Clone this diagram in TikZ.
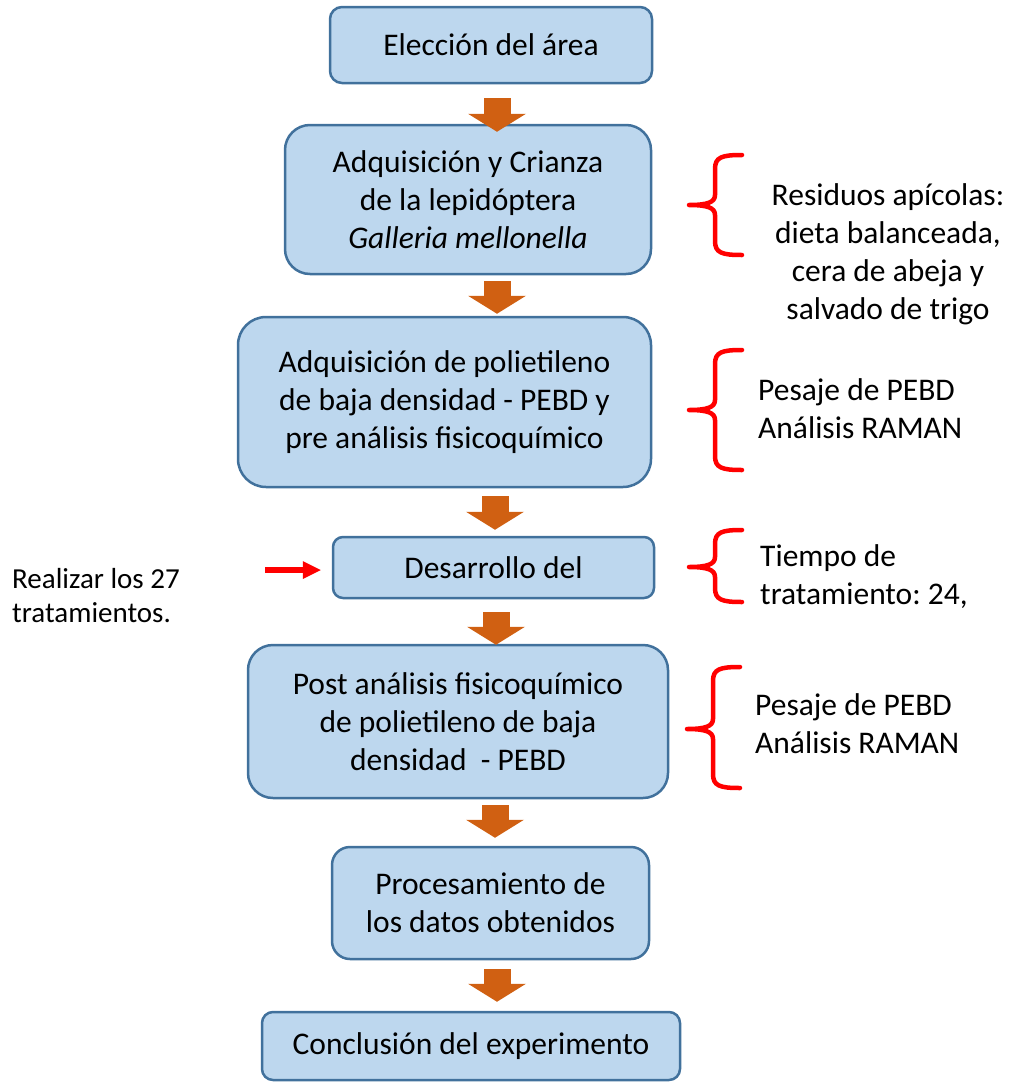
\documentclass[tikz,border=0pt]{standalone}
\usepackage{fontspec}
\setmainfont{Carlito}
\usetikzlibrary{arrows.meta,calc}
\definecolor{boxfill}{HTML}{BDD7EE}
\definecolor{boxline}{HTML}{41719C}
\definecolor{flowor}{HTML}{D06012}
\definecolor{brred}{HTML}{FF0000}
\frenchspacing
\newcommand\mainsz{\fontsize{31.5}{38}\selectfont}
\newcommand\leftsz{\fontsize{29}{34}\selectfont}
\newcommand\sidebrace[3]{%
  \draw[bracestyle] (742,#1) .. controls (722,#1) and (715,#1+2) .. (715,#1+14)
    -- (715,#2-10) .. controls (715,#2-3) and (708,#2) .. (689,#2)
    .. controls (708,#2) and (715,#2+3) .. (715,#2+10)
    -- (715,#3-14) .. controls (715,#3-2) and (722,#3) .. (742,#3);}
\tikzset{
  stepbox/.style={draw=boxline, fill=boxfill, line width=2.5pt, inner sep=0pt,
    align=center, font=\mainsz},
  sidetext/.style={inner sep=0pt, font=\mainsz},
  blockarr/.style={draw=flowor, line width=27pt,
    -{Triangle[width=58pt,length=18pt,line width=0pt]}},
  redarr/.style={draw=brred, line width=6pt,
    -{Triangle[width=18pt,length=18pt,line width=0pt]}},
  bracestyle/.style={draw=brred, line width=4.5pt, line cap=round, line join=round},
}
\begin{document}
\begin{tikzpicture}[x=1pt,y=-1pt]
\useasboundingbox (0,0) rectangle (1010,1082);

% boxes
\node[stepbox, minimum width=322pt, minimum height=76pt, rounded corners=12pt] (b1) at (491,45) {Elección del área};
\node[stepbox, minimum width=366pt, minimum height=149pt, rounded corners=25pt] (b2) at (468,199.5)
  {Adquisición y Crianza\\de la lepidóptera\\\textit{Galleria mellonella}};
\node[stepbox, minimum width=413pt, minimum height=170pt, rounded corners=28pt] (b3) at (444.5,402)
  {Adquisición de polietileno\\de baja densidad - PEBD y\\pre análisis fisicoquímico};
\node[stepbox, minimum width=321pt, minimum height=61pt, rounded corners=10pt] (b4) at (493.5,567.5) {Desarrollo del};
\node[stepbox, minimum width=420pt, minimum height=153pt, rounded corners=25pt] (b5) at (458,721.5)
  {Post análisis fisicoquímico\\de polietileno de baja\\densidad\ \ - PEBD};
\node[stepbox, minimum width=317pt, minimum height=112pt, rounded corners=18pt] (b6) at (490.5,903)
  {Procesamiento de\\los datos obtenidos};
\node[stepbox, minimum width=418pt, minimum height=68pt, rounded corners=11pt] (b7) at (471,1046) {Conclusión del experimento};

% block arrows
\draw[blockarr] ($(b1.south -| 497,0)+(0,14)$) -- ($(b2.north -| 497,0)+(0,8)$);
\draw[blockarr] ($(b2.south -| 497,0)+(0,6)$) -- ($(b3.north -| 497,0)+(0,-2)$);
\draw[blockarr] ($(b3.south -| 495,0)+(0,8)$) -- ($(b4.north -| 495,0)+(0,-6)$);
\draw[blockarr] ($(b4.south -| 496,0)+(0,13)$) -- ($(b5.north -| 496,0)+(0,1)$);
\draw[blockarr] ($(b5.south -| 495,0)+(0,6)$) -- ($(b6.north -| 495,0)+(0,-8)$);
\draw[blockarr] ($(b6.south -| 497,0)+(0,9)$) -- ($(b7.north -| 497,0)+(0,-9)$);

% side texts
\node[sidetext, align=center] (t1) at (888,254)
  {Residuos apícolas:\\dieta balanceada,\\cera de abeja y\\salvado de trigo};
\node[sidetext, align=left, anchor=west] (t2) at (758,409) {Pesaje de PEBD\\Análisis RAMAN};
\node[sidetext, align=left, anchor=west] (t3) at (760,577) {Tiempo de\\tratamiento: 24,};
\node[sidetext, align=left, anchor=west] (t4) at (755,724) {Pesaje de PEBD\\Análisis RAMAN};
\node[inner sep=0pt, font=\leftsz, align=left, anchor=west] (lt) at (12,596) {Realizar los 27\\tratamientos.};

% braces
\sidebrace{155}{205}{255}
\sidebrace{350}{410}{470}
\sidebrace{530}{567}{602}
\begin{scope}[xshift=-2pt]
\sidebrace{667}{729}{788}
\end{scope}

% red arrow
\coordinate (ra) at (265,570);
\draw[redarr] (ra) -- ($(ra -| b4.west)+(-11,0)$);
\end{tikzpicture}
\end{document}
